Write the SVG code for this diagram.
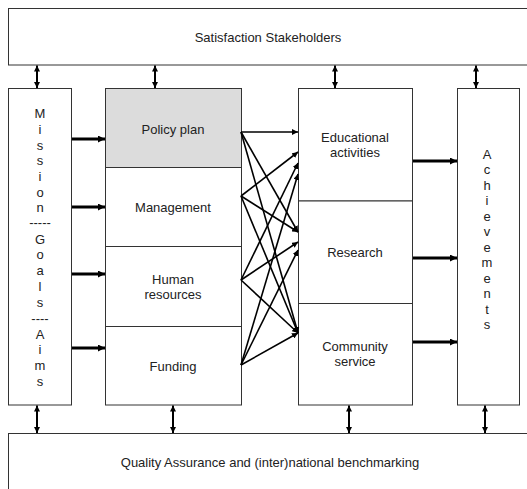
<svg xmlns="http://www.w3.org/2000/svg" width="527" height="489" viewBox="0 0 527 489">
<defs>
<style>
.box{fill:#fff;stroke:#333;stroke-width:1}
.grey{fill:#dcdcdc}
text{font-family:"Liberation Sans",Arial,sans-serif;font-size:13px;fill:#222;text-anchor:middle}
.thick{stroke:#000;stroke-width:3;fill:none}
.vert{stroke:#000;stroke-width:2;fill:none}
.cross{stroke:#000;stroke-width:1.6;fill:none}
</style>
<marker id="ah" viewBox="0 0 8 8" refX="8" refY="4" markerWidth="7" markerHeight="7" markerUnits="userSpaceOnUse" orient="auto-start-reverse">
<path d="M0,0 L8,4 L0,8 z" fill="#000"/>
</marker>
<marker id="ahs" viewBox="0 0 8 8" refX="8" refY="4" markerWidth="6" markerHeight="6" markerUnits="userSpaceOnUse" orient="auto-start-reverse">
<path d="M0,0 L8,4 L0,8 z" fill="#000"/>
</marker>
</defs>

<g id="stakeholders">
<rect class="box" x="8.5" y="8.5" width="525" height="56.5"/>
<text x="268" y="42">Satisfaction Stakeholders</text>
</g>

<g id="quality">
<rect class="box" x="8.5" y="433.5" width="525" height="70"/>
<text x="270" y="467">Quality Assurance and (inter)national benchmarking</text>
</g>

<g id="mission">
<rect class="box" x="8.5" y="88.5" width="63" height="316.5"/>
<text x="40" y="118">M</text>
<text x="40" y="133.75">i</text>
<text x="40" y="149.5">s</text>
<text x="40" y="165.25">s</text>
<text x="40" y="181">i</text>
<text x="40" y="196.75">o</text>
<text x="40" y="211.5">n</text>
<text x="40" y="227">-----</text>
<text x="40" y="243.5">G</text>
<text x="40" y="259">o</text>
<text x="40" y="275">a</text>
<text x="40" y="291.25">l</text>
<text x="40" y="307">s</text>
<text x="40" y="322.5">----</text>
<text x="40" y="338.5">A</text>
<text x="40" y="354.25">i</text>
<text x="40" y="370">m</text>
<text x="40" y="385.75">s</text>
</g>

<g id="policy-plan">
<rect class="box grey" x="105.5" y="88.5" width="136" height="79"/>
<text x="173" y="133.5">Policy plan</text>
</g>
<g id="management">
<rect class="box" x="105.5" y="167.5" width="136" height="79"/>
<text x="173" y="212">Management</text>
</g>
<g id="human-resources">
<rect class="box" x="105.5" y="246.5" width="136" height="80"/>
<text x="173" y="283.5">Human</text>
<text x="173" y="299">resources</text>
</g>
<g id="funding">
<rect class="box" x="105.5" y="326.5" width="136" height="78.5"/>
<text x="173" y="370.5">Funding</text>
</g>

<g id="educational">
<rect class="box" x="298.5" y="88.5" width="114" height="112.5"/>
<text x="355" y="142">Educational</text>
<text x="355" y="157">activities</text>
</g>
<g id="research">
<rect class="box" x="298.5" y="201" width="114" height="102.5"/>
<text x="355" y="257">Research</text>
</g>
<g id="community">
<rect class="box" x="298.5" y="303.5" width="114" height="101.5"/>
<text x="355" y="351">Community</text>
<text x="355" y="366">service</text>
</g>

<g id="achievements">
<rect class="box" x="457.5" y="88.5" width="62" height="316.5"/>
<text x="487" y="158.5">A</text>
<text x="487" y="174">c</text>
<text x="487" y="189.5">h</text>
<text x="487" y="205">i</text>
<text x="487" y="220.5">e</text>
<text x="487" y="236">v</text>
<text x="487" y="251.5">e</text>
<text x="487" y="267">m</text>
<text x="487" y="282.5">e</text>
<text x="487" y="298">n</text>
<text x="487" y="313.5">t</text>
<text x="487" y="329">s</text>
</g>

<g id="connectors">
<line class="vert" x1="37" y1="65.5" x2="37" y2="88" marker-start="url(#ahs)" marker-end="url(#ahs)"/>
<line class="vert" x1="155" y1="65.5" x2="155" y2="88" marker-start="url(#ahs)" marker-end="url(#ahs)"/>
<line class="vert" x1="335" y1="65.5" x2="335" y2="88" marker-start="url(#ahs)" marker-end="url(#ahs)"/>
<line class="vert" x1="476" y1="65.5" x2="476" y2="88" marker-start="url(#ahs)" marker-end="url(#ahs)"/>
<line class="vert" x1="37" y1="405.5" x2="37" y2="433" marker-start="url(#ahs)" marker-end="url(#ahs)"/>
<line class="vert" x1="173" y1="405.5" x2="173" y2="433" marker-start="url(#ahs)" marker-end="url(#ahs)"/>
<line class="vert" x1="349" y1="405.5" x2="349" y2="433" marker-start="url(#ahs)" marker-end="url(#ahs)"/>
<line class="vert" x1="485" y1="405.5" x2="485" y2="433" marker-start="url(#ahs)" marker-end="url(#ahs)"/>
<line class="thick" x1="72" y1="139" x2="105" y2="139" marker-end="url(#ah)"/>
<line class="thick" x1="72" y1="207" x2="105" y2="207" marker-end="url(#ah)"/>
<line class="thick" x1="72" y1="274" x2="105" y2="274" marker-end="url(#ah)"/>
<line class="thick" x1="72" y1="348" x2="105" y2="348" marker-end="url(#ah)"/>
<line class="thick" x1="413" y1="161" x2="457" y2="161" marker-end="url(#ah)"/>
<line class="thick" x1="413" y1="258" x2="457" y2="258" marker-end="url(#ah)"/>
<line class="thick" x1="413" y1="342" x2="457" y2="342" marker-end="url(#ah)"/>
<line class="cross" x1="241" y1="132" x2="298" y2="132" marker-end="url(#ahs)"/>
<line class="cross" x1="241" y1="132" x2="298" y2="232" marker-end="url(#ahs)"/>
<line class="cross" x1="241" y1="132" x2="298" y2="333" marker-end="url(#ahs)"/>
<line class="cross" x1="241" y1="196" x2="298" y2="152" marker-end="url(#ahs)"/>
<line class="cross" x1="241" y1="196" x2="298" y2="232" marker-end="url(#ahs)"/>
<line class="cross" x1="241" y1="196" x2="298" y2="333" marker-end="url(#ahs)"/>
<line class="cross" x1="241" y1="280" x2="298" y2="163" marker-end="url(#ahs)"/>
<line class="cross" x1="241" y1="280" x2="298" y2="242" marker-end="url(#ahs)"/>
<line class="cross" x1="241" y1="280" x2="298" y2="333" marker-end="url(#ahs)"/>
<line class="cross" x1="241" y1="365" x2="298" y2="174" marker-end="url(#ahs)"/>
<line class="cross" x1="241" y1="365" x2="298" y2="250" marker-end="url(#ahs)"/>
<line class="cross" x1="241" y1="365" x2="298" y2="333" marker-end="url(#ahs)"/>
</g>
</svg>
